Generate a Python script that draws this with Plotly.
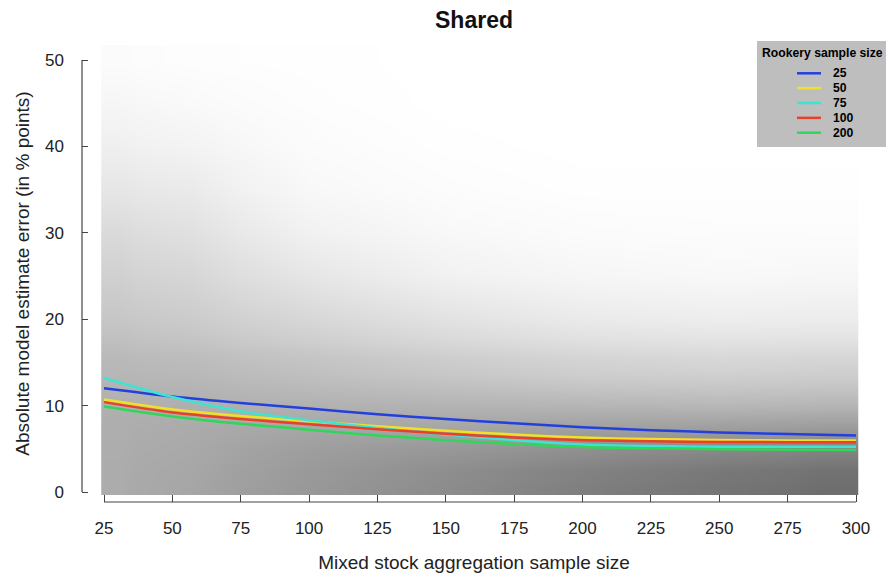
import plotly.graph_objects as go

# ---------------------------------------------------------------- data
# Mixed stock aggregation sample sizes at which the fitted curves are listed
sample_sizes = [25, 50, 75, 100, 125, 150, 175, 200, 225, 250, 275, 300]

# Fitted absolute error curves (in % points), one per rookery sample size
rookery_labels = ["25", "50", "75", "100", "200"]
fit_25 = [12.0, 11.05, 10.3, 9.65, 9.0, 8.45, 7.95, 7.5, 7.15, 6.9, 6.7, 6.55]
fit_50 = [10.7, 9.55, 8.8, 8.2, 7.6, 7.1, 6.65, 6.3, 6.12, 6.02, 5.97, 5.95]
fit_75 = [13.2, 11.0, 9.35, 8.3, 7.4, 6.65, 6.0, 5.5, 5.32, 5.25, 5.25, 5.25]
fit_100 = [10.4, 9.2, 8.45, 7.85, 7.25, 6.75, 6.3, 6.0, 5.87, 5.8, 5.77, 5.75]
fit_200 = [9.9, 8.75, 7.9, 7.2, 6.55, 6.0, 5.55, 5.2, 5.05, 4.95, 4.9, 4.86]
fits = [fit_25, fit_50, fit_75, fit_100, fit_200]
line_colors = ["#2340dc", "#f0e028", "#3fe3d2", "#e8402a", "#30d65a"]

# Point cloud of individual simulation errors, summarised as shade (grey level,
# 0 = black, 255 = white) on a coarse grid of sample size x error
cloud_x = [25, 50, 100, 150, 200, 250, 300]
cloud_y = [0, 2.5, 5, 7.5, 10, 12.5, 15, 20, 25, 30, 35, 40, 45, 50]
shade_25 = [172, 172, 173, 174, 176, 180, 185, 198, 208, 218, 230, 239, 246, 251]
shade_50 = [166, 167, 169, 171, 175, 181, 188, 203, 214, 224, 234, 243, 249, 253]
shade_100 = [152, 154, 158, 167, 177, 187, 197, 215, 230, 241, 248, 251, 253, 254]
shade_150 = [140, 142, 152, 166, 179, 193, 206, 226, 241, 248, 252, 254, 255, 255]
shade_200 = [127, 130, 144, 161, 181, 199, 213, 234, 246, 251, 254, 255, 255, 255]
shade_250 = [117, 120, 137, 159, 183, 201, 216, 237, 248, 252, 254, 255, 255, 255]
shade_300 = [110, 114, 132, 156, 181, 199, 214, 236, 247, 252, 254, 255, 255, 255]
shades = [shade_25, shade_50, shade_100, shade_150, shade_200, shade_250, shade_300]

x_ticks = list(range(25, 301, 25))
y_ticks = [0, 10, 20, 30, 40, 50]

# ---------------------------------------------------------------- layout geometry
W, H = 886, 576
M_L, M_R, M_T, M_B = 82, 20, 45, 74
X_RANGE = [16.955, 303.657]
Y_RANGE = [-1.1574, 51.736]
FONT = "Liberation Sans, Arial, Helvetica, sans-serif"
AXIS_COL = "#444444"
TEXT_COL = "#222222"


def edges(centres, lo, hi):
    mids = [(a + b) / 2 for a, b in zip(centres[:-1], centres[1:])]
    return [lo] + mids + [hi]


def xpaper(v):
    return (v - X_RANGE[0]) / (X_RANGE[1] - X_RANGE[0])


def ypaper(v):
    return (v - Y_RANGE[0]) / (Y_RANGE[1] - Y_RANGE[0])


def px_x(p):
    return (p - M_L) / (W - M_L - M_R)


def px_y(p):
    return (H - M_B - p) / (H - M_T - M_B)


fig = go.Figure()

# grey cloud of individual errors
z = [[shades[j][i] for j in range(len(cloud_x))] for i in range(len(cloud_y))]
fig.add_trace(go.Heatmap(
    x=edges(cloud_x, 24, 301),
    y=edges(cloud_y, -0.3, 52),
    z=z,
    zmin=0, zmax=255,
    colorscale=[[0, "rgb(0,0,0)"], [1, "rgb(255,255,255)"]],
    zsmooth="best",
    showscale=False,
    hoverinfo="skip",
))

# fitted curves
for name, ys, col in zip(rookery_labels, fits, line_colors):
    fig.add_trace(go.Scatter(
        x=sample_sizes, y=ys, mode="lines", name=name,
        line=dict(color=col, width=2.5, shape="spline", smoothing=0.8),
        showlegend=False,
    ))

shapes = [
    # R-style axis lines spanning first to last tick
    dict(type="line", xref="paper", yref="paper",
         x0=xpaper(x_ticks[0]), x1=xpaper(x_ticks[-1]), y0=0, y1=0,
         line=dict(color=AXIS_COL, width=1.2)),
    dict(type="line", xref="paper", yref="paper",
         x0=0, x1=0, y0=ypaper(y_ticks[0]), y1=ypaper(y_ticks[-1]),
         line=dict(color=AXIS_COL, width=1.2)),
    # legend box
    dict(type="rect", xref="paper", yref="paper",
         x0=px_x(757), x1=px_x(892), y0=px_y(147), y1=px_y(41),
         fillcolor="#bebebe", line=dict(width=0), layer="above"),
]
annotations = [
    dict(text="<b>Rookery sample size</b>", xref="paper", yref="paper",
         x=px_x(760), y=px_y(53), xanchor="left", yanchor="middle",
         showarrow=False, font=dict(family=FONT, size=12.2, color="black")),
]
row0, row_gap = 73.3, 14.85
for k, (name, col) in enumerate(zip(rookery_labels, line_colors)):
    yy = px_y(row0 + k * row_gap)
    shapes.append(dict(type="line", xref="paper", yref="paper",
                       x0=px_x(797), x1=px_x(821), y0=yy, y1=yy,
                       line=dict(color=col, width=2.5), layer="above"))
    annotations.append(dict(text=f"<b>{name}</b>", xref="paper", yref="paper",
                            x=px_x(831), y=yy, xanchor="left", yanchor="middle",
                            showarrow=False,
                            font=dict(family=FONT, size=12.2, color="black")))

fig.update_layout(
    width=W, height=H,
    margin=dict(l=M_L, r=M_R, t=M_T, b=M_B, pad=0, autoexpand=False),
    paper_bgcolor="white", plot_bgcolor="white",
    font=dict(family=FONT, size=17, color=TEXT_COL),
    title=dict(text="<b>Shared</b>", x=0.5, xref="paper", xanchor="center",
               y=1 - 20 / H, yref="container", yanchor="middle",
               font=dict(family=FONT, size=23, color="#111111")),
    xaxis=dict(range=X_RANGE, tickvals=x_ticks, ticks="inside", ticklen=7,
               tickcolor=AXIS_COL, tickwidth=1.2, showgrid=False, zeroline=False,
               showline=False, ticklabelstandoff=14, automargin=False,
               tickfont=dict(family=FONT, size=17, color=TEXT_COL),
               title=dict(text="Mixed stock aggregation sample size", standoff=18,
                          font=dict(family=FONT, size=19, color=TEXT_COL))),
    yaxis=dict(range=Y_RANGE, tickvals=y_ticks, ticks="inside", ticklen=6,
               tickcolor=AXIS_COL, tickwidth=1.2, showgrid=False, zeroline=False,
               showline=False, ticklabelstandoff=17, automargin=False,
               tickfont=dict(family=FONT, size=17, color=TEXT_COL),
               title=dict(text="Absolute model estimate error (in % points)",
                          standoff=10,
                          font=dict(family=FONT, size=19, color=TEXT_COL))),
    shapes=shapes,
    annotations=annotations,
    showlegend=False,
)

fig.write_html("out.html")
